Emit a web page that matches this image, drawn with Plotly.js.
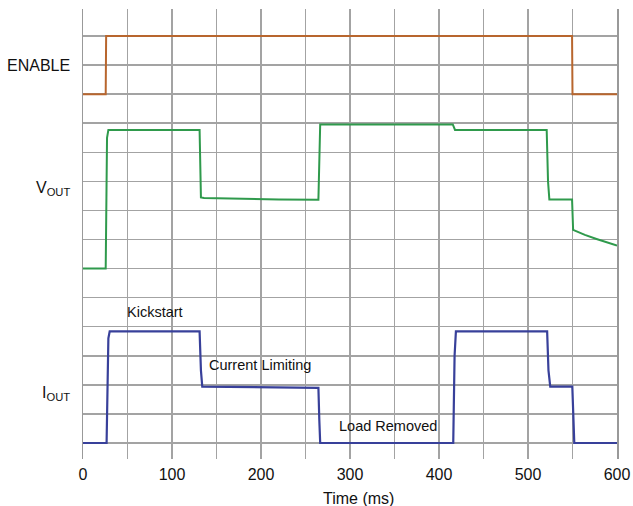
<!DOCTYPE html>
<html>
<head>
<meta charset="utf-8">
<script src="https://cdn.plot.ly/plotly-3.0.1.min.js"></script>
<style>html,body{margin:0;padding:0;background:#fff;}</style>
</head>
<body>
<div id="chart" style="width:633px;height:506px;"></div>
<script>
// Time (ms) and levels in grid divisions
var enableT = [0, 25.5, 26, 549.5, 550, 600];
var enableV = [12, 12, 14, 14, 12, 12];

var voutT = [0, 25.5, 27, 28.5, 131, 132.5, 136, 170, 220, 264.5, 265.5, 266.5, 415.5, 416.5, 418, 470, 521, 522.5, 524, 540, 549.5, 550.7, 563.9, 577, 588.5, 600];
var voutV = [6, 6, 10.5, 10.77, 10.77, 8.45, 8.43, 8.40, 8.38, 8.37, 9.5, 10.96, 10.96, 10.9, 10.77, 10.77, 10.77, 9.0, 8.38, 8.38, 8.38, 7.33, 7.16, 7.02, 6.9, 6.79];

var ioutT = [0, 26.5, 28.5, 30, 131, 132.5, 134, 200, 264.5, 265.5, 266.5, 416, 417.5, 419, 521.5, 523, 525, 549.8, 551, 552, 600];
var ioutV = [0, 0, 3.6, 3.84, 3.84, 2.5, 1.94, 1.92, 1.90, 0.8, 0, 0, 3.0, 3.84, 3.84, 2.5, 1.94, 1.94, 0.6, 0, 0];

var xTickVals = [0, 100, 200, 300, 400, 500, 600];
var signalLabels = ["ENABLE", "V<sub>OUT</sub>", "I<sub>OUT</sub>"];
var signalLabelY = [12.98, 8.75, 1.72];
var noteText = ["Kickstart", "Current Limiting", "Load Removed"];
var noteX = [80.6, 198.6, 343];
var noteY = [4.52, 2.68, 0.6];

var font = "Liberation Sans, Arial, sans-serif";
var traces = [
  {x: enableT, y: enableV, mode: "lines", line: {color: "#b8662e", width: 2}},
  {x: voutT, y: voutV, mode: "lines", line: {color: "#2f9a4c", width: 2}},
  {x: ioutT, y: ioutV, mode: "lines", line: {color: "#38409a", width: 2.2}}
];

var annotations = [];
for (var i = 0; i < signalLabels.length; i++) {
  annotations.push({xref: "paper", yref: "y", x: -0.02, y: signalLabelY[i], text: signalLabels[i],
    showarrow: false, xanchor: "right", yanchor: "middle", font: {family: font, size: 16, color: "#111"}});
}
for (var j = 0; j < noteText.length; j++) {
  annotations.push({xref: "x", yref: "y", x: noteX[j], y: noteY[j], text: noteText[j],
    showarrow: false, xanchor: "center", yanchor: "middle", font: {family: font, size: 14.5, color: "#111"}});
}
annotations.push({xref: "x", yref: "paper", x: 309, y: 0, yshift: -39, text: "Time (ms)", showarrow: false,
  xanchor: "center", yanchor: "middle", font: {family: font, size: 16, color: "#111"}});

var layout = {
  width: 633, height: 506,
  margin: {l: 83, r: 16, t: 9, b: 47},
  paper_bgcolor: "#fff", plot_bgcolor: "#fff",
  showlegend: false,
  font: {family: font, size: 16, color: "#111"},
  xaxis: {
    range: [0, 600], tickvals: xTickVals, ticks: "", showgrid: true,
    gridcolor: "#a3a3a3", gridwidth: 1.5, zeroline: false, showline: false,
    minor: {dtick: 50, tick0: 0, showgrid: true, gridcolor: "#a3a3a3", gridwidth: 1.5},
    tickfont: {family: font, size: 16, color: "#111"}, ticklen: 0, ticklabelstandoff: 4, fixedrange: true
  },
  yaxis: {
    range: [-0.55, 14.93], dtick: 1, tick0: 0, showticklabels: false, ticks: "",
    showgrid: true, gridcolor: "#a3a3a3", gridwidth: 1.5, zeroline: false,
    showline: true, mirror: true, linecolor: "#999", linewidth: 1.5, fixedrange: true
  },
  annotations: annotations
};
Plotly.newPlot("chart", traces, layout, {displayModeBar: false, staticPlot: true});
</script>
</body>
</html>
